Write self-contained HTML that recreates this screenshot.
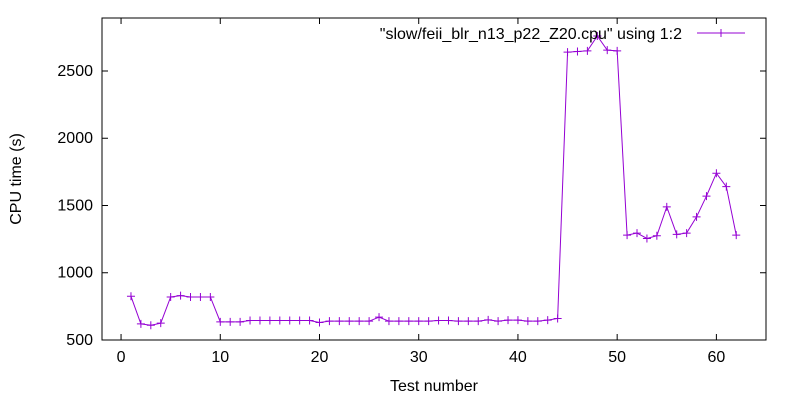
<!DOCTYPE html>
<html><head><meta charset="utf-8"><style>
body{margin:0;background:#fff}
svg text{font-family:"Liberation Sans","DejaVu Sans",sans-serif;font-size:16px;fill:#000}
</style></head><body>
<svg id="c" width="800" height="400"></svg>
<script>
const testNumbers=[];for(let i=1;i<=62;i++)testNumbers.push(i);
const cpuTimes=[825,620,610,625,820,830,820,820,820,635,635,635,645,645,645,645,645,645,645,630,640,640,640,640,640,670,640,640,640,640,640,645,645,640,640,640,650,640,648,648,640,640,648,660,2640,2645,2650,2760,2655,2650,1280,1295,1255,1275,1490,1285,1295,1415,1570,1740,1640,1280];
const xTicks=[0,10,20,30,40,50,60];
const yTicks=[500,1000,1500,2000,2500];
const L=102,R=766,T=18,B=340,xmin=-1.92,xmax=65,ymin=500,ymax=2894;
const X=v=>L+(v-xmin)/(xmax-xmin)*(R-L);
const Y=v=>B-(v-ymin)/(ymax-ymin)*(B-T);
const s=document.getElementById('c'),NS='http://www.w3.org/2000/svg';
function mk(t,a,p){const e=document.createElementNS(NS,t);for(const k in a)e.setAttribute(k,a[k]);(p||s).appendChild(e);return e;}
xTicks.forEach(v=>{const x=X(v);
const t=mk('path',{d:`M${x} ${B}v-6M${x} ${T}v6`,stroke:'#000','stroke-width':1});


const l=mk('text',{x:x,y:B+22,'text-anchor':'middle'});l.textContent=v;

});
yTicks.forEach(v=>{const y=Y(v);
const t=mk('path',{d:`M${L} ${y}h6M${R} ${y}h-6`,stroke:'#000','stroke-width':1});


const l=mk('text',{x:L-9,y:y+5,'text-anchor':'end'});l.textContent=v;

});
const f=mk('rect',{x:L,y:T,width:R-L,height:B-T,fill:'none',stroke:'#000','stroke-width':1});


const xt=mk('text',{x:(L+R)/2,y:391,'text-anchor':'middle'});xt.textContent='Test number';


const yt=mk('text',{x:0,y:0,'text-anchor':'middle',transform:`translate(21,${(T+B)/2}) rotate(-90)`});yt.textContent='CPU time (s)';


const pts=testNumbers.map((n,i)=>[X(n),Y(cpuTimes[i])]);
const line=mk('polyline',{points:pts.map(p=>p.join(',')).join(' '),fill:'none',stroke:'#9400d3','stroke-width':1});


pts.forEach(p=>{const m=mk('path',{d:`M${p[0]-4} ${p[1]}h8M${p[0]} ${p[1]-4}v8`,stroke:'#9400d3','stroke-width':1});

});
const lt=mk('text',{x:682,y:39,'text-anchor':'end'});lt.textContent='"slow/feii_blr_n13_p22_Z20.cpu" using 1:2';


const ls=mk('path',{d:'M697 33h48M721 29v8M717 33h8',stroke:'#9400d3','stroke-width':1});


</script>
</body></html>
